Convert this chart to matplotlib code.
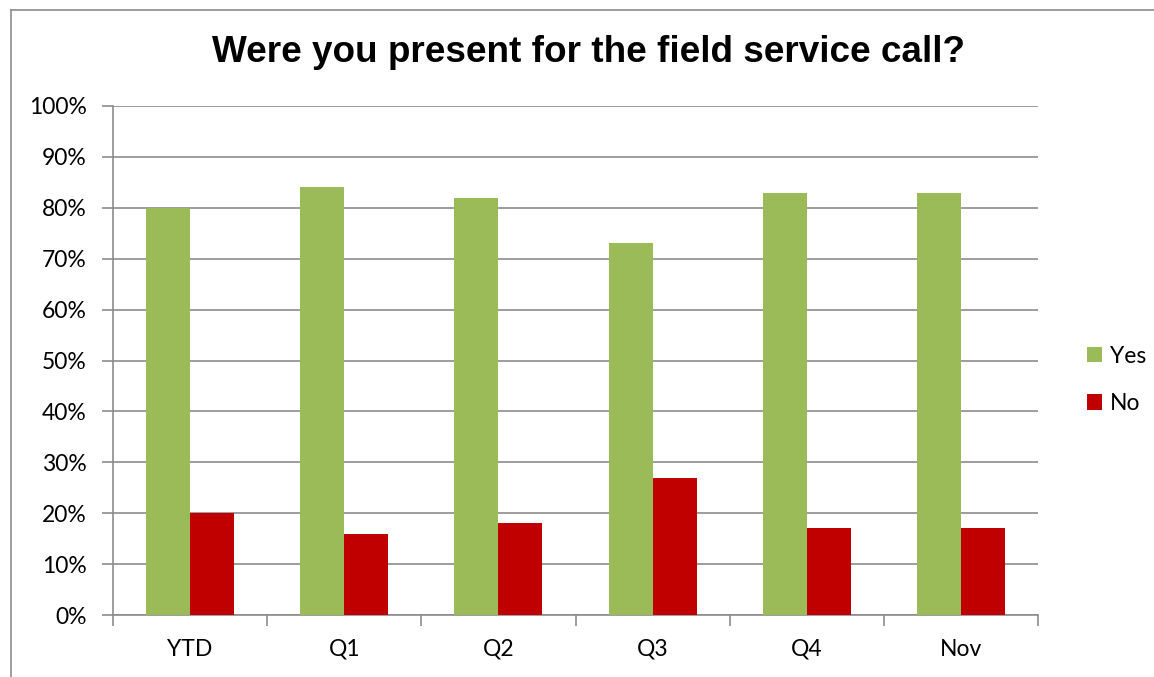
import matplotlib
matplotlib.use("Agg")
import matplotlib.pyplot as plt
from matplotlib.lines import Line2D
from matplotlib.patches import Patch
import numpy as np

categories = ["YTD", "Q1", "Q2", "Q3", "Q4", "Nov"]
yes_vals = [80, 84, 82, 73, 83, 83]
no_vals = [20, 16, 18, 27, 17, 17]
series_names = ["Yes", "No"]
yticks = list(range(0, 101, 10))
title = "Were you present for the field service call?"

green = "#9BBB59"
red = "#C00000"
grid = "#8C8C8C"
fsize = 16.5

fig = plt.figure(figsize=(11.54, 6.77), dpi=100)
ax = fig.add_axes([113/1154, 1-615/677, (1038-113)/1154, (615-106)/677])

x = np.arange(len(categories))
w = 0.285
ax.bar(x - w/2, yes_vals, w, color=green, zorder=3)
ax.bar(x + w/2, no_vals, w, color=red, zorder=3)

ax.set_xlim(-0.5, len(categories) - 0.5)
ax.set_ylim(0, 100)
ax.set_yticks(yticks)
ax.set_yticklabels([f"{v}%" for v in yticks], fontfamily="Lato", fontsize=fsize)
ax.yaxis.grid(True, color=grid, linewidth=1.2, zorder=0)
ax.set_axisbelow(True)

ax.set_xticks(x)
ax.set_xticklabels(categories, fontfamily="Lato", fontsize=fsize)
ax.tick_params(axis="x", length=0, pad=17)
ax.set_xticks(np.arange(-0.5, len(categories), 1), minor=True)
ax.tick_params(axis="x", which="minor", length=8, width=1.2, color=grid, direction="out")
ax.tick_params(axis="y", length=8, width=1.2, color=grid, direction="out", pad=11)

for s in ["top", "right"]:
    ax.spines[s].set_visible(False)
for s in ["left", "bottom"]:
    ax.spines[s].set_color(grid)
    ax.spines[s].set_linewidth(1.2)

fig.text(588/1154, 1-52/677, title, ha="center", va="center",
         fontfamily="Liberation Sans", fontweight="bold", fontsize=26.6)

handles = [Patch(facecolor=green, label=series_names[0]),
           Patch(facecolor=red, label=series_names[1])]
leg = fig.legend(handles=handles, loc="center left", bbox_to_anchor=(1066/1154, 1-380/677),
                 frameon=False, prop={"family": "Lato", "size": fsize},
                 handlelength=0.65, handleheight=0.65, handletextpad=0.35, labelspacing=1.15)

# chart border (left and top visible)
fig.add_artist(Line2D([11/1154, 11/1154], [0, 1-10/677], color="#8C8C8C", linewidth=1.2))
fig.add_artist(Line2D([11/1154, 1], [1-10/677, 1-10/677], color="#8C8C8C", linewidth=1.2))

fig.savefig("out.png", dpi=100)
